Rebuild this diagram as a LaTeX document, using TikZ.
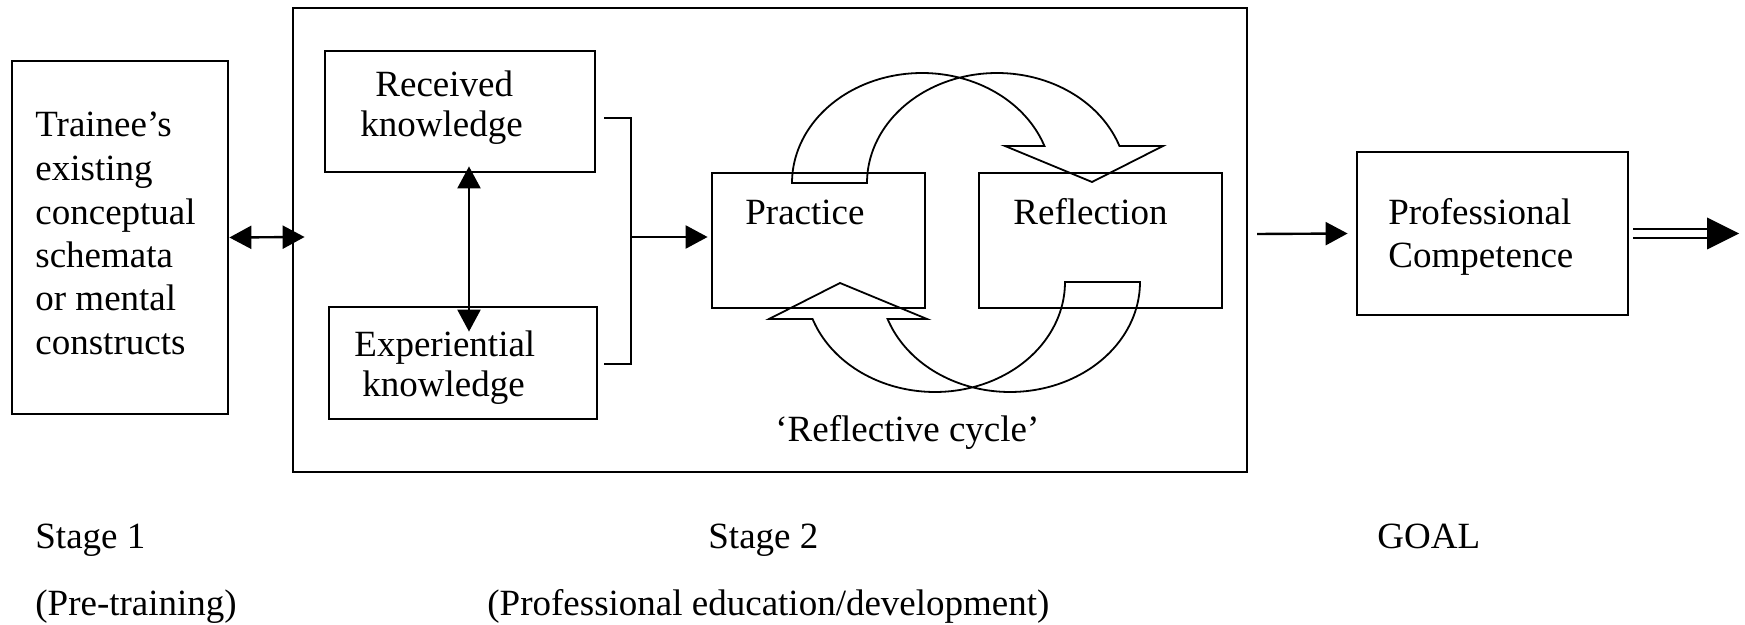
\documentclass[tikz,border=0pt]{standalone}
\usepackage{fontspec}
\setmainfont{Liberation Serif}
\usetikzlibrary{arrows.meta,calc}
\begin{document}
\begin{tikzpicture}[x=0.5pt,y=-0.5pt,
  box/.style={draw,line width=1.4pt,inner sep=0pt},
  txt/.style={anchor=base west,inner sep=0pt,font=\fontsize{18.5}{22}\selectfont},
  conn/.style={line width=1.2pt},
  tip/.style={-{Triangle[length=11pt,width=11.5pt]}},
  dtip/.style={{Triangle[length=11pt,width=11.5pt]}-{Triangle[length=11pt,width=11.5pt]}},
  cyc/.style={line width=0.9pt,line join=miter},
]
\useasboundingbox (0,0) rectangle (1745,625);

% boxes
\node[box,minimum width=108pt,minimum height=176.5pt] (tr) at (120,237.5) {};
\node[box,minimum width=477pt,minimum height=232pt] (s2) at (770,240) {};
\node[box,minimum width=135pt,minimum height=60.5pt] (rk) at (460,111.5) {};
\node[box,minimum width=134pt,minimum height=56pt] (ek) at (463,363) {};
\node[box,minimum width=106.5pt,minimum height=67.5pt] (pr) at (818.5,240.5) {};
\node[box,minimum width=121.5pt,minimum height=67.5pt] (rf) at (1100.5,240.5) {};
\node[box,minimum width=135.5pt,minimum height=81.5pt] (pc) at (1492.5,233.5) {};

% texts
\node[txt] (t1) at (35,137) {Trainee’s};
\node[txt] (t2) at (35,181) {existing};
\node[txt] (t3) at (35,224.5) {conceptual};
\node[txt] (t4) at (35,268) {schemata};
\node[txt] (t5) at (35,311) {or mental};
\node[txt] (t6) at (35,355) {constructs};
\node[txt] (r1) at (375,97) {Received};
\node[txt] (r2) at (360,137) {knowledge};
\node[txt] (e1) at (354,357) {Experiential};
\node[txt] (e2) at (362,397) {knowledge};
\node[txt] (p1) at (745,225) {Practice};
\node[txt] (f1) at (1013,225) {Reflection};
\node[txt] (c1) at (1388,225) {Professional};
\node[txt] (c2) at (1388,268) {Competence};
\node[txt] (rc) at (775,442) {‘Reflective cycle’};
\node[txt] (st1) at (35,548) {Stage 1};
\node[txt] (st1b) at (35,615) {(Pre-training)};
\node[txt] (st2) at (708,548) {Stage 2};
\node[txt] (st2b) at (487,615) {(Professional education/development)};
\node[txt] (gl) at (1377,548) {GOAL};

% connectors
\draw[conn,dtip] (tr.east) -- ($(s2.west)+(13,-3)$);
\draw[conn,dtip] ($(rk.south)+(9,-7)$) -- ($(ek.north)+(6,26)$);
\coordinate (bt) at (631,118);
\coordinate (bb) at (631,364);
\coordinate (bm) at (631,237);
\draw[line width=1pt] ($(rk.east)+(8,6.5)$) -- (bt) -- (bb) -- ($(ek.east)+(6,1)$);
\draw[conn,tip] (bm) -- ($(pr.west)+(-3,-3.5)$);
\coordinate (g1) at (1257,234);
\draw[conn,tip] (g1) -- ($(pc.west)+(-8,0)$);
\coordinate (gt) at (1739,233.5);
\draw[line width=0.8pt,double,double distance=3.7pt] ($(pc.east)+(4,0)$) -- ($(gt)+(-32,0)$);
\fill ($(gt)+(-32,-16)$) -- (gt) -- ($(gt)+(-32,16)$) -- cycle;

% reflective cycle arrows
\draw[cyc] plot[domain=180:340.35,samples=90] ({922+130*cos(\x)},{183+110*sin(\x)})
  -- (1005,146) -- (1092,182) -- (1163,146) -- (1119.5,146)
  -- plot[domain=340.35:180,samples=90] ({997+130*cos(\x)},{183+110*sin(\x)}) -- cycle;
\begin{scope}[rotate around={180:(966,232.5)}]
\draw[cyc] plot[domain=180:340.35,samples=90] ({922+130*cos(\x)},{183+110*sin(\x)})
  -- (1005,146) -- (1092,182) -- (1163,146) -- (1119.5,146)
  -- plot[domain=340.35:180,samples=90] ({997+130*cos(\x)},{183+110*sin(\x)}) -- cycle;
\end{scope}
\end{tikzpicture}
\end{document}
